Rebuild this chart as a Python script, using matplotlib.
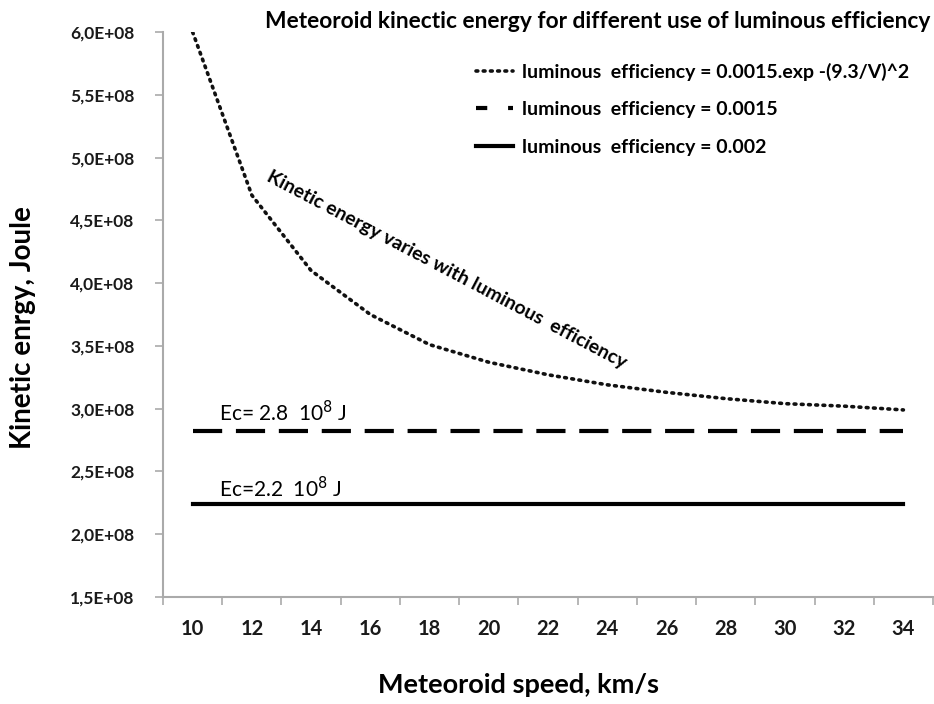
import matplotlib
matplotlib.use("Agg")
import matplotlib.pyplot as plt
from matplotlib.lines import Line2D
import numpy as np

speeds = [10, 12, 14, 16, 18, 20, 22, 24, 26, 28, 30, 32, 34]
energy_variable = [6.0e8, 4.7e8, 4.1e8, 3.75e8, 3.51e8, 3.37e8, 3.27e8, 3.19e8,
                   3.13e8, 3.08e8, 3.04e8, 3.02e8, 2.99e8]
energy_0015 = [2.82e8] * 13
energy_002 = [2.24e8] * 13
yticks = [1.5e8, 2.0e8, 2.5e8, 3.0e8, 3.5e8, 4.0e8, 4.5e8, 5.0e8, 5.5e8, 6.0e8]
ytick_labels = ["1,5E+08", "2,0E+08", "2,5E+08", "3,0E+08", "3,5E+08",
                "4,0E+08", "4,5E+08", "5,0E+08", "5,5E+08", "6,0E+08"]
series_labels = ['luminous  efficiency = 0.0015.exp -(9.3/V)^2',
                 'luminous  efficiency = 0.0015',
                 'luminous  efficiency = 0.002']

plt.rcParams['font.family'] = ['Lato', 'DejaVu Sans']

fig = plt.figure(figsize=(9.34, 7.04), dpi=100)
ax = fig.add_axes([163/934, 1-597/704, (933-163)/934, (597-32)/704])

idx = np.arange(len(speeds))
dot_style = dict(color='#111111', lw=2.6, linestyle=(0, (0.5, 1.5)), dash_capstyle='round')
ax.plot(idx, energy_variable, **dot_style)
ax.plot(idx, energy_0015, color='black', lw=3, linestyle=(0, (7, 3.3)))
ax.plot(idx, energy_002, color='black', lw=3, linestyle='-')

ax.set_xlim(-0.5, len(speeds) - 0.5)
ax.set_ylim(1.5e8, 6.0e8)
ax.set_yticks(yticks)
ax.set_yticklabels(ytick_labels, fontsize=12.5, fontweight='bold', color='#1a1a1a')
ax.set_xticks(idx)
ax.set_xticklabels([str(s) for s in speeds], fontsize=14.5, fontweight='bold', color='#1a1a1a')
ax.tick_params(axis='x', length=0, pad=16)
ax.set_xticks(np.arange(-0.5, len(speeds), 1), minor=True)
ax.tick_params(axis='x', which='minor', length=6, color='#aaaaaa', width=1.2)
ax.tick_params(axis='y', length=6, color='#aaaaaa', width=1.2, pad=14.5)

for s in ['top', 'right']:
    ax.spines[s].set_visible(False)
for s in ['left', 'bottom']:
    ax.spines[s].set_color('#aaaaaa')
    ax.spines[s].set_linewidth(1.5)

fig.text(23/934, 1-328/704, 'Kinetic enrgy, Joule', fontsize=20, fontweight='bold',
         rotation=90, ha='center', va='center')
fig.text(518/934, 1-685/704, 'Meteoroid speed, km/s', fontsize=19.5, fontweight='bold',
         ha='center', va='center')

fig.text(930/934, 1-21/704, 'Meteoroid kinectic energy for different use of luminous efficiency',
         fontsize=16.4, fontweight='bold', ha='right', va='center')

handles = [Line2D([], [], **dot_style),
           Line2D([], [], color='black', lw=3, linestyle=(0, (2.7, 5.0))),
           Line2D([], [], color='black', lw=3, linestyle='-')]
leg = ax.legend(handles, series_labels, loc='upper left',
                bbox_to_anchor=((468-163)/770, 1-(55-32)/565),
                frameon=False, fontsize=14, handlelength=1.9, handletextpad=0.5,
                labelspacing=1.05, borderaxespad=0)
for t in leg.get_texts():
    t.set_fontweight('bold')

ax.text(0.45, 2.87e8, 'Ec= 2.8  10$^8$ J', fontsize=15, ha='left', va='bottom')
ax.text(0.45, 2.26e8, 'Ec=2.2  10$^8$ J', fontsize=15, ha='left', va='bottom')

ax.text(1.2, 4.8e8, 'Kinetic energy varies with luminous  efficiency', fontsize=14,
        fontweight='bold', rotation=-27.8, rotation_mode='anchor',
        ha='left', va='bottom')

fig.savefig('out.png', dpi=100, facecolor='white')
